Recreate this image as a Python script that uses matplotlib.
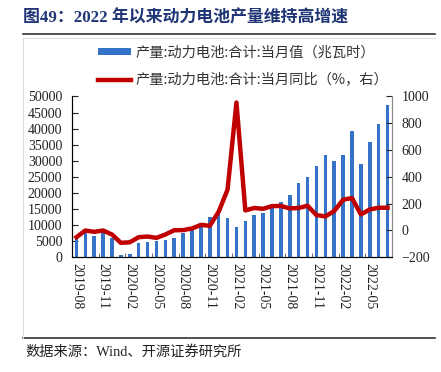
import matplotlib
matplotlib.use("Agg")
import matplotlib.pyplot as plt
from matplotlib.lines import Line2D
from matplotlib.patches import Patch
import numpy as np

plt.rcParams['font.family'] = ['Liberation Serif', 'Noto Sans CJK SC', 'DejaVu Sans']

months = ['2019-08', '2019-09', '2019-10', '2019-11', '2019-12', '2020-01', '2020-02', '2020-03',
          '2020-04', '2020-05', '2020-06', '2020-07', '2020-08', '2020-09', '2020-10', '2020-11',
          '2020-12', '2021-01', '2021-02', '2021-03', '2021-04', '2021-05', '2021-06', '2021-07',
          '2021-08', '2021-09', '2021-10', '2021-11', '2021-12', '2022-01', '2022-02', '2022-03',
          '2022-04', '2022-05', '2022-06', '2022-07']
production = [6000, 8000, 6750, 8000, 6100, 800, 1000, 4600, 4800, 5100, 5350, 6150,
              7500, 8500, 9750, 12650, 14300, 12200, 9500, 11350, 13000, 13850, 15300, 17200,
              19400, 23100, 25100, 28400, 31700, 29800, 31900, 39200, 28900, 35700, 41500, 47400]
yoy = [-50, 0, -10, 0, -30, -92, -88, -50, -45, -55, -30, 2,
       3, 15, 42, 35, 140, 305, 955, 150, 168, 162, 182, 183,
       165, 168, 185, 115, 105, 145, 230, 242, 120, 157, 170, 170]

label_bar = '产量:动力电池:合计:当月值（兆瓦时）'
label_line = '产量:动力电池:合计:当月同比（%，右）'
title = '图49：2022 年以来动力电池产量维持高增速'
source = '数据来源：Wind、开源证券研究所'

W, H = 441, 372
fig = plt.figure(figsize=(W / 100, H / 100), dpi=100)

x = np.arange(len(months))
ax = fig.add_axes([72 / W, 1 - 257.3 / H, (392 - 72) / W, (257.3 - 96.5) / H])
ax.bar(x, production, width=0.4, color='#3473C8', zorder=2)
ax.set_xlim(-0.5, len(months) - 0.5)
ax.set_ylim(0, 50000)
ax.set_yticks(np.arange(0, 50001, 5000))
ax.tick_params(axis='y', direction='in', length=4, pad=7, labelsize=10, colors='#222222')
ax.set_xticks(x[::3])
ax.set_xticklabels(months[::3], rotation=270, fontsize=10)
ax.tick_params(axis='x', length=0, pad=4, colors='#222222')
ax.set_xticks(np.arange(2.5, len(months), 3), minor=True)
ax.tick_params(axis='x', which='minor', direction='in', length=3, color='#555555')
for s in ['top']:
    ax.spines[s].set_visible(False)
ax.spines['left'].set_color('#333333')
ax.spines['bottom'].set_color('#222222')
ax.spines['right'].set_color('#888888')

ax2 = ax.twinx()
ax2.plot(x, yoy, color='#C00000', lw=3.2, solid_joinstyle='round', zorder=3)
ax2.set_ylim(-200, 1000)
ax2.set_yticks(np.arange(-200, 1001, 200))
ax2.tick_params(axis='y', direction='in', length=4, pad=7, labelsize=10, colors='#222222')
ax2.spines['top'].set_visible(False)
ax2.spines['right'].set_color('#888888')

handles = [Patch(facecolor='#3473C8', edgecolor='none'),
           Line2D([0], [0], color='#C00000', lw=3.2)]
fig.legend(handles, [label_bar, label_line], loc='upper left',
           bbox_to_anchor=(98 / W, 1 - 46 / H), frameon=False, borderpad=0,
           borderaxespad=0, handlelength=2.3, handleheight=0.35, handletextpad=0.3,
           labelspacing=0.9, prop={'family': ['Noto Sans CJK SC'], 'size': 10.3},
           labelcolor='#333333')

fig.text(23 / W, 1 - 18 / H, title, fontsize=12.2, fontweight='bold', color='#1F3575',
         va='center', ha='left', family=['Liberation Serif', 'Noto Sans CJK SC'])
fig.text(25 / W, 1 - 352 / H, source, fontsize=10.3, color='#222222', va='center', ha='left',
         family=['Liberation Serif', 'Noto Sans CJK SC'])

fig.add_artist(Line2D([23 / W, 435 / W], [1 - 34 / H, 1 - 34 / H], color='#333333', lw=1.2))
fig.add_artist(Line2D([23 / W, 435 / W], [1 - 338 / H, 1 - 338 / H], color='#333333', lw=1.2))
fig.add_artist(Line2D([23 / W, 23 / W], [1 - 38 / H, 1 - 338 / H], color='#DDDDDD', lw=0.8))
fig.add_artist(Line2D([23 / W, 435 / W], [1 - 38 / H, 1 - 38 / H], color='#DDDDDD', lw=0.8))

fig.savefig('out.png', dpi=100)
